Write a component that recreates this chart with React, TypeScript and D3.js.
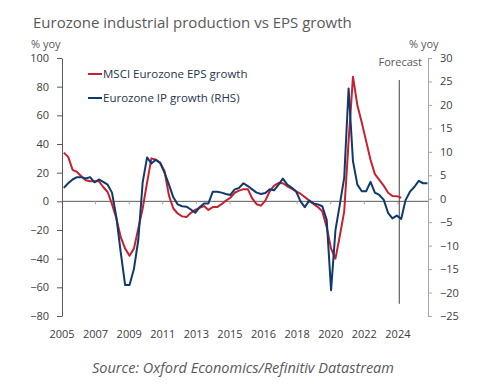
import React, { useEffect, useRef } from 'react';
import * as d3 from 'd3';

// quarterly series, first point 2005 Q3
const FIRST_QUARTER = 2005.52;
const epsGrowth = [
  34, 31, 22, 20.5, 17.5, 14.7, 14, 14, 14, 10, 6.5, -2, -12, -25, -33, -38, -33, -19, -5, 13,
  30, 29, 27, 21, 4, -5, -8.5, -10.5, -11, -8, -6, -4.5, -3.3, -6, -4, -4, -2, 0.5, 2.5, 6,
  7.5, 8.5, 8.5, 2, -2, -3, 0.5, 7, 11, 12.8, 12.6, 10.5, 8.8, 7, 5.3, 3, 0.5, -1.8, -4, -7,
  -18, -33, -40, -24, -7, 42, 87, 67, 55, 42, 29, 19, 15, 11, 6, 3.7, 3.6, 2.5,
];
const ipGrowth = [
  2.3, 3.3, 4.1, 4.6, 4.6, 4.3, 4.6, 3.5, 4.1, 3.6, 3.0, 1.3, -4, -11.5, -18.4, -18.4, -15, -8.8, 3.5, 8.8,
  7.5, 8.3, 7.6, 5.5, 3.0, 0.3, -1.2, -1.6, -1.7, -2.3, -3, -1.8, -1, -1, 1.5, 1.5, 1.3, 1.0, 0.8, 2.0,
  2.3, 3.3, 2.7, 2.0, 1.3, 1.0, 1.2, 2.0, 1.8, 3.0, 4.3, 3.0, 2.4, 1.6, -0.5, -1.8, -0.4, -1.0, -1.2, -1.6,
  -4.5, -19.5, -6.7, -1.2, 4.5, 23.5, 8, 3.0, 1.6, 1.6, 3.6, 1.3, 0.8, -0.2, -3, -4.2, -3.6, -4.3, -0.3, 1.5,
  2.5, 3.8, 3.3, 3.3,
];
const xTickLabels = ['2005', '2007', '2009', '2011', '2013', '2015', '2016', '2018', '2020', '2022', '2024'];
const leftTicks = [100, 80, 60, 40, 20, 0, -20, -40, -60, -80];
const rightTicks = [30, 25, 20, 15, 10, 5, 0, -5, -10, -15, -20, -25];
const FORECAST_DATE = 2024.66;

const RED = '#C8202F';
const BLUE = '#0E3A6C';
const FONT = '"Open Sans", "Segoe UI", sans-serif';

export default function App() {
  const ref = useRef<SVGSVGElement | null>(null);

  useEffect(() => {
    document.body.style.margin = '0';
    const svg = d3.select(ref.current);
    svg.selectAll('*').remove();

    const left = 62;
    const right = 428;
    const top = 58;
    const bottom = 316;

    const x = d3.scaleLinear().domain([2005.417, 2026.3]).range([left, right]);
    const yL = d3.scaleLinear().domain([-80, 100]).range([bottom, top]);
    const yR = d3.scaleLinear().domain([-25, 30]).range([bottom, top]);
    const dateOf = (i: number) => FIRST_QUARTER + i * 0.25;
    const tickDate = (i: number) => 2005.417 + (i * 23) / 12;

    // title
    svg.append('text')
      .attr('x', 33).attr('y', 28)
      .attr('font-size', 15).attr('fill', '#595959')
      .text('Eurozone industrial production vs EPS growth');

    svg.append('text').attr('x', 31).attr('y', 48)
      .attr('font-size', 11).attr('fill', '#595959').text('% yoy');
    svg.append('text').attr('x', 409).attr('y', 48)
      .attr('font-size', 11).attr('fill', '#595959').text('% yoy');

    // left axis
    const gl = svg.append('g').attr('transform', `translate(${left},0)`)
      .call(d3.axisLeft(yL).tickValues(leftTicks).tickSize(5).tickSizeOuter(0));
    gl.select('.domain').attr('stroke', '#595959');
    gl.selectAll('.tick line').attr('stroke', '#595959');
    gl.selectAll('.tick text').attr('font-size', 11).attr('font-family', FONT)
      .attr('fill', '#404040').attr('x', -13);

    // right axis
    const gr = svg.append('g').attr('transform', `translate(${right},0)`)
      .call(d3.axisRight(yR).tickValues(rightTicks).tickSize(4).tickSizeOuter(0));
    gr.select('.domain').attr('stroke', '#a6a6a6');
    gr.selectAll('.tick line').attr('stroke', '#a6a6a6');
    gr.selectAll('.tick text').attr('font-size', 11).attr('font-family', FONT)
      .attr('fill', '#404040').attr('x', 12);

    // zero line with small ticks
    svg.append('line')
      .attr('x1', left).attr('x2', right)
      .attr('y1', yL(0)).attr('y2', yL(0))
      .attr('stroke', '#595959').attr('stroke-width', 1);
    svg.append('g').selectAll('line')
      .data(xTickLabels.slice(1))
      .enter().append('line')
      .attr('x1', (_d, i) => x(tickDate(i + 1)))
      .attr('x2', (_d, i) => x(tickDate(i + 1)))
      .attr('y1', yL(0)).attr('y2', yL(0) + 3)
      .attr('stroke', '#a6a6a6');

    svg.append('g').selectAll('text')
      .data(xTickLabels)
      .enter().append('text')
      .attr('x', (_d, i) => x(tickDate(i)))
      .attr('y', 338)
      .attr('text-anchor', 'middle')
      .attr('font-size', 11).attr('fill', '#404040')
      .text(d => d);

    // forecast marker
    svg.append('line')
      .attr('x1', x(FORECAST_DATE)).attr('x2', x(FORECAST_DATE))
      .attr('y1', yR(25.3)).attr('y2', yR(-22.4))
      .attr('stroke', '#404040').attr('stroke-width', 1);
    svg.append('text')
      .attr('x', 422).attr('y', 66).attr('text-anchor', 'end')
      .attr('font-size', 11).attr('fill', '#595959').text('Forecast');

    // lines
    const redLine = d3.line<number>().x((_d, i) => x(dateOf(i))).y(d => yL(d));
    const blueLine = d3.line<number>().x((_d, i) => x(dateOf(i))).y(d => yR(d));
    svg.append('path').datum(epsGrowth).attr('d', redLine)
      .attr('fill', 'none').attr('stroke', RED).attr('stroke-width', 2).attr('stroke-linejoin', 'round');
    svg.append('path').datum(ipGrowth).attr('d', blueLine)
      .attr('fill', 'none').attr('stroke', BLUE).attr('stroke-width', 2).attr('stroke-linejoin', 'round');

    // legend
    const legend = [
      { label: 'MSCI Eurozone EPS growth', color: RED, y: 74 },
      { label: 'Eurozone IP growth (RHS)', color: BLUE, y: 98 },
    ];
    const lg = svg.append('g').selectAll('g').data(legend).enter().append('g');
    lg.append('line')
      .attr('x1', 88).attr('x2', 102)
      .attr('y1', d => d.y).attr('y2', d => d.y)
      .attr('stroke', d => d.color).attr('stroke-width', 2);
    lg.append('text')
      .attr('x', 103).attr('y', d => d.y + 4)
      .attr('font-size', 11.5).attr('fill', '#1f3550')
      .text(d => d.label);

    // source
    svg.append('text')
      .attr('x', 243).attr('y', 373).attr('text-anchor', 'middle')
      .attr('font-size', 14.5).attr('font-style', 'italic').attr('fill', '#595959')
      .text('Source: Oxford Economics/Refinitiv Datastream');
  }, []);

  return (
    <svg ref={ref} width={486} height={390}
      style={{ display: 'block', background: '#fff', fontFamily: FONT }} />
  );
}
